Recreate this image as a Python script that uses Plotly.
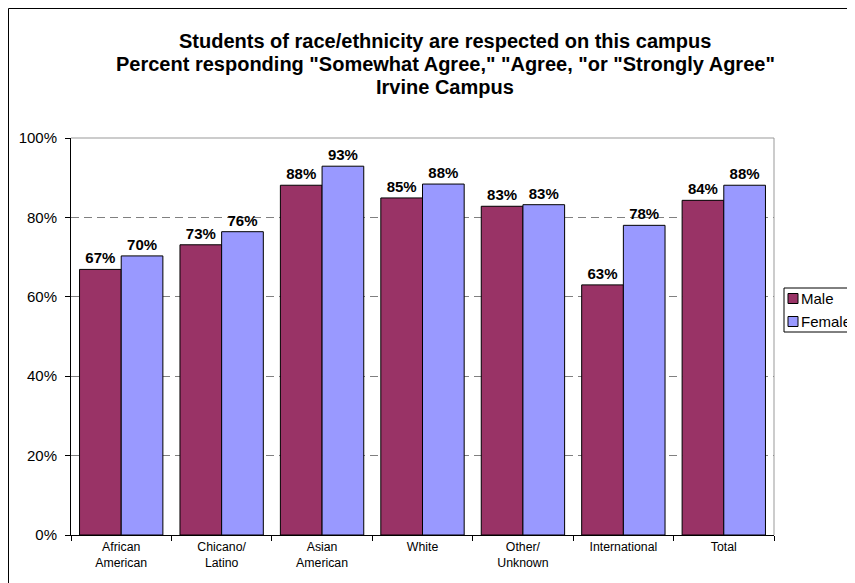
import plotly.graph_objects as go

categories = ["African<br>American", "Chicano/<br>Latino", "Asian<br>American", "White",
              "Other/<br>Unknown", "International", "Total"]
male = [0.669, 0.731, 0.881, 0.849, 0.828, 0.630, 0.843]
female = [0.703, 0.764, 0.929, 0.884, 0.832, 0.780, 0.881]
y_ticks = [0, 0.2, 0.4, 0.6, 0.8, 1.0]
y_ticktext = ["0%", "20%", "40%", "60%", "80%", "100%"]
title_lines = ["Students of race/ethnicity are respected on this campus",
               "Percent responding \"Somewhat Agree,\" \"Agree, \"or \"Strongly Agree\"",
               "Irvine Campus"]
series = [("Male", male, "#993366"), ("Female", female, "#9999FF")]

FONT = "Liberation Sans, Arial, sans-serif"

# the page body adds an 8px margin, so the figure is 8px smaller and the
# helpers below take screen pixels (plot area on screen: x 71-774, y 138-535)
def px_x(x):
    return (x - 71) / 703

def px_y(y):
    return (535 - y) / 397

fig = go.Figure()
for name, vals, col in series:
    fig.add_trace(go.Bar(x=categories, y=vals, name=name, marker_color=col,
                         marker_line=dict(color="black", width=1),
                         texttemplate="<b>%{y:.0%}</b>", textposition="outside",
                         textfont=dict(size=15, color="black", family=FONT),
                         cliponaxis=False))

fig.update_layout(
    width=847, height=575,
    margin=dict(l=63, r=81, t=130, b=48),
    paper_bgcolor="white", plot_bgcolor="white",
    font=dict(family=FONT, color="black"),
    barmode="group", bargap=0.17, bargroupgap=0,
    showlegend=False,
    xaxis=dict(showline=True, linecolor="black", linewidth=1,
               ticks="outside", tickson="boundaries", ticklen=5, tickcolor="black",
               tickfont=dict(size=12.3, family=FONT)),
    yaxis=dict(range=[0, 1], tickvals=y_ticks, ticktext=y_ticktext,
               showline=True, linecolor="black", linewidth=1,
               ticks="outside", ticklen=5, tickcolor="black", ticklabelstandoff=5,
               showgrid=True, gridcolor="#808080", griddash="8px,5px", gridwidth=1,
               tickfont=dict(size=15, family=FONT), zeroline=False),
)

# three title lines
for i, line in enumerate(title_lines):
    fig.add_annotation(text="<b>" + line + "</b>", xref="paper", yref="paper",
                       x=px_x(445), y=px_y(41 + 23 * i),
                       xanchor="center", yanchor="middle", showarrow=False,
                       font=dict(size=20, family=FONT, color="black"))

# grey top and right border of the plot area
fig.add_shape(type="line", xref="paper", yref="paper", x0=0, x1=1, y0=1, y1=1,
              line=dict(color="#999999", width=1))
fig.add_shape(type="line", xref="paper", yref="paper", x0=1, x1=1, y0=0, y1=1,
              line=dict(color="#999999", width=1))
# outer chart frame (top-left corner only is visible)
fig.add_shape(type="rect", xref="paper", yref="paper",
              x0=px_x(8.5), x1=1.2, y0=-0.3, y1=px_y(8.5),
              line=dict(color="black", width=1))

# legend box drawn by hand (box runs past the right edge of the picture)
fig.add_shape(type="rect", xref="paper", yref="paper",
              x0=px_x(784), x1=px_x(880), y0=px_y(332), y1=px_y(288),
              line=dict(color="black", width=1), fillcolor="white")
for i, (name, vals, col) in enumerate(series):
    yc = 298.5 + 23 * i
    fig.add_shape(type="rect", xref="paper", yref="paper",
                  x0=px_x(788), x1=px_x(798), y0=px_y(yc + 5), y1=px_y(yc - 5),
                  line=dict(color="black", width=1), fillcolor=col)
    fig.add_annotation(text=name, xref="paper", yref="paper",
                       x=px_x(799), y=px_y(yc), xanchor="left", yanchor="middle",
                       showarrow=False, font=dict(size=15, family=FONT, color="black"))

fig.write_html("out.html")
